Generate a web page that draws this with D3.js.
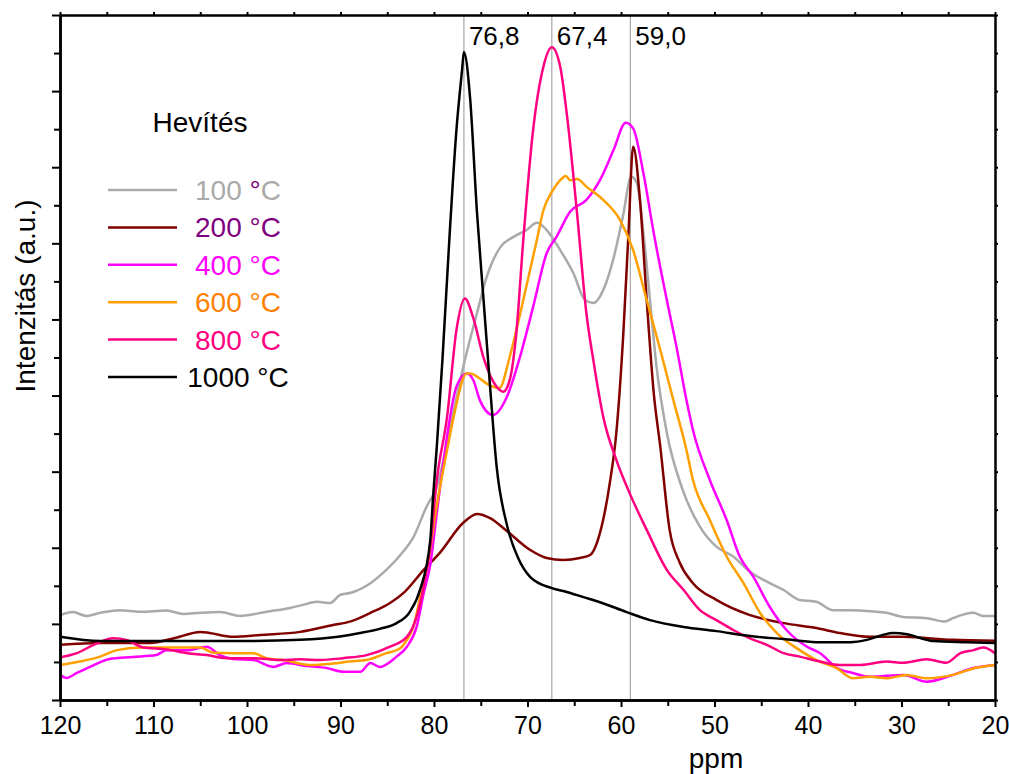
<!DOCTYPE html>
<html>
<head>
<meta charset="utf-8">
<script src="https://cdn.jsdelivr.net/npm/d3@7"></script>
<style>
  body { margin: 0; background: #fff; }
  svg text { font-family: Arial, "Liberation Sans", sans-serif; }
</style>
</head>
<body>
<script>
'use strict';

// [ppm, intensity (a.u.)] for each heating temperature
const s100 = [[120,2.23],[118.6,2.31],[117.2,2.21],[115.7,2.29],[113.6,2.36],[111.4,2.32],[108.6,2.35],[106.8,2.26],
  [105,2.29],[102.9,2.31],[100.75,2.21],[97.9,2.32],[95.4,2.42],[94.0,2.50],[92.5,2.58],[91.1,2.55],[90.05,2.76],
  [89.0,2.81],[86.8,3.07],[85.45,3.34],[83.6,3.81],[82.2,4.28],[80.8,5.08],[79.7,5.60],[78.2,7.25],[76.7,8.93],
  [75.4,10.17],[74.4,11.09],[72.9,11.90],[71.5,12.17],[70.1,12.35],[69.0,12.54],[67.95,12.35],[66.5,11.82],
  [65.1,11.22],[63.85,10.51],[62.96,10.43],[61.9,10.77],[60.85,11.56],[59.8,12.70],[58.9,13.75],[58.3,13.58],
  [57.6,12.27],[56.9,10.51],[56.2,8.76],[55.1,7.02],[53.4,5.52],[51.55,4.55],[49.8,4.03],[48.0,3.77],[46.2,3.37],
  [44.4,3.11],[42.6,2.89],[40.9,2.63],[39.1,2.58],[37.3,2.36],[35.5,2.36],[34.4,2.35],[31.6,2.29],[29.8,2.18],
  [27.3,2.15],[25.35,2.06],[24.5,2.15],[22.3,2.29],[21.3,2.21],[20,2.21]];

const s200 = [[120,1.45],[115.7,1.50],[110.4,1.50],[107.7,1.63],[105,1.79],[104,1.76],[101.5,1.66],[98.6,1.71],
  [94.3,1.79],[90.8,1.97],[89.0,2.06],[86.8,2.29],[84.7,2.55],[83.1,2.85],[81.1,3.42],[79.4,3.86],[76.9,4.65],
  [75.4,4.89],[74.0,4.78],[72.2,4.44],[69.7,3.94],[67.95,3.73],[66.2,3.68],[64.4,3.73],[63.3,3.81],[62.25,4.39],
  [61.2,5.70],[60.5,7.02],[59.75,9.64],[59.2,12.27],[58.7,14.54],[57.97,13.14],[57.25,10.51],[56.5,8.07],
  [55.8,6.66],[54.8,4.47],[53.7,3.60],[52.3,3.07],[49.8,2.63],[46.2,2.23],[42.6,2.02],[39.1,1.89],[36.6,1.76],
  [33.4,1.66],[29.8,1.66],[24.5,1.58],[20,1.56]];

const s400 = [[120,0.66],[119.3,0.58],[118.2,0.71],[116.8,0.87],[114.7,1.08],[112.2,1.13],[109.7,1.18],[108.6,1.31],
  [106.4,1.31],[104.3,1.40],[102.9,1.18],[101.5,1.08],[99.3,1.05],[97.2,0.87],[95.75,0.97],[93.6,0.89],[91.5,0.84],
  [89.7,0.74],[87.9,0.74],[86.8,0.97],[85.8,0.87],[84.0,1.14],[82.9,1.40],[81.85,1.93],[81.1,2.81],[80.4,3.55],
  [79.7,4.91],[78.9,6.42],[77.6,8.23],[76.5,8.58],[75.8,8.41],[75.1,7.88],[73.7,7.49],[72.2,7.97],[70.8,9.02],
  [69.4,10.33],[67.95,11.74],[66.9,12.17],[65.45,12.83],[63.7,13.14],[62.25,13.66],[60.8,14.45],[59.5,15.17],
  [58.7,15.02],[57.6,13.84],[56.5,12.27],[55.1,10.51],[54.0,9.20],[53.0,7.88],[52.3,7.09],[50.5,5.78],[48.7,4.73],
  [47.3,3.77],[45.85,3.24],[44.1,2.45],[42.3,1.84],[40.1,1.40],[38.7,1.23],[36.9,0.84],[35.2,0.71],[33.4,0.61],
  [29.8,0.66],[27.3,0.48],[24.5,0.66],[22.3,0.84],[20,0.92]];

const s600 = [[120,0.92],[117.9,1.01],[115.7,1.14],[113.9,1.31],[111.4,1.38],[107.9,1.38],[105,1.38],[103.6,1.24],
  [101.5,1.23],[99.3,1.23],[97.9,1.10],[96.1,1.05],[93.3,0.92],[90.8,0.96],[89.0,1.01],[87.2,1.05],[85.1,1.23],
  [83.6,1.36],[82.9,1.58],[82.2,1.93],[81.5,2.68],[80.6,3.68],[79.7,5.12],[78.6,6.57],[77.9,7.44],[76.5,8.58],
  [76.15,8.58],[75.1,8.45],[74.4,8.32],[73.0,8.20],[71.9,9.02],[70.45,10.51],[69.0,12.09],[68.3,12.87],
  [67.4,13.35],[66.5,13.66],[65.9,13.77],[65.45,13.66],[64.7,13.69],[63.7,13.49],[61.9,13.14],[60.1,12.61],
  [58.7,11.82],[57.25,10.51],[55.8,9.20],[54.4,7.88],[53.0,6.57],[52.3,5.78],[50.5,4.73],[48.7,3.77],[46.9,3.07],
  [45.1,2.28],[43.3,1.75],[40.9,1.31],[39.1,1.05],[36.9,0.83],[35.2,0.57],[33.4,0.61],[31.6,0.57],[29.45,0.66],
  [27.3,0.57],[24.5,0.66],[22.3,0.83],[20,0.92]];

const s800 = [[120,1.12],[118.2,1.23],[116.4,1.45],[114.3,1.62],[112.9,1.58],[111.1,1.38],[108.6,1.33],[106.4,1.23],
  [104.3,1.18],[102.2,1.10],[99.3,1.10],[96.5,1.05],[94.3,1.07],[92.2,1.05],[89.7,1.10],[87.2,1.18],[84.7,1.40],
  [82.9,1.66],[81.85,2.19],[81.1,2.98],[80.4,4.03],[79.7,5.78],[78.6,7.44],[77.6,9.72],[76.7,10.55],[75.8,10.04],
  [74.7,8.99],[73.3,8.23],[72.6,8.10],[71.9,8.41],[71.2,9.63],[70.45,12.09],[69.4,14.98],[68.3,16.64],[67.4,17.15],
  [66.5,16.64],[65.8,15.41],[64.7,12.79],[63.7,10.16],[62.96,8.93],[61.9,7.44],[60.5,6.31],[59.0,5.39],[57.25,4.47],
  [55.1,3.42],[53.3,2.89],[51.55,2.36],[49.8,2.10],[48.0,1.84],[46.2,1.62],[44.4,1.45],[42.6,1.23],[40.9,1.14],
  [38.7,1.01],[36.6,0.92],[34.4,0.92],[31.6,1.01],[29.8,0.98],[27.3,1.07],[25.2,0.98],[23.7,1.23],[22.3,1.31],
  [21.25,1.38],[20,1.23]];

const s1000 = [[120,1.66],[115.7,1.55],[110.4,1.55],[105,1.55],[99.7,1.55],[94.3,1.58],[90.05,1.67],[87.9,1.76],
  [85.8,1.87],[84.0,2.02],[82.6,2.31],[81.5,2.89],[80.4,4.20],[80.1,5.33],[79.7,6.66],[79.1,8.93],[78.3,12.35],
  [77.6,14.98],[77.0,16.55],[76.8,17.03],[76.15,15.85],[75.4,12.80],[74.7,10.51],[74.0,8.23],[73.3,6.13],
  [72.2,4.60],[71.0,3.73],[69.7,3.23],[67.4,2.94],[65.8,2.84],[64.1,2.71],[62.25,2.57],[59.4,2.31],[56.9,2.10],
  [53.3,1.92],[49.8,1.81],[46.2,1.68],[42.6,1.60],[39.1,1.52],[35.5,1.52],[33.7,1.58],[32.0,1.71],[30.9,1.76],
  [29.4,1.73],[28.0,1.63],[26.6,1.55],[23.0,1.52],[20,1.50]];

const seriesNames = ['100 °C', '200 °C', '400 °C', '600 °C', '800 °C', '1000 °C'];
const seriesData = [s100, s200, s400, s600, s800, s1000];
const lineColors = ['#aaaaaa', '#800000', '#ff00ff', '#ffa000', '#ff0080', '#000000'];
const labelColors = ['#aaaaaa', '#800080', '#ff00ff', '#ff8000', '#ff0080', '#000000'];

const peakLines = [76.8, 67.4, 59.0];
const peakLabels = ['76,8', '67,4', '59,0'];

const xMajor = [120, 110, 100, 90, 80, 70, 60, 50, 40, 30, 20];
const xMinor = [115, 105, 95, 85, 75, 65, 55, 45, 35, 25];

(function() {
  const width = 1009, height = 774;
  const left = 60, right = 995, top = 15, bottom = 700;

  const svg = d3.select('body').append('svg')
    .attr('width', width)
    .attr('height', height);

  const x = d3.scaleLinear().domain([120, 20]).range([left, right]);
  const y = d3.scaleLinear().domain([0, 18]).range([bottom, top]);

  // peak position markers
  svg.selectAll('.peak')
    .data(peakLines)
    .enter()
    .append('line')
      .attr('x1', d => x(d))
      .attr('x2', d => x(d))
      .attr('y1', y(18))
      .attr('y2', y(0))
      .attr('stroke', '#a6a6a6')
      .attr('stroke-width', 1.2);

  svg.selectAll('.peakLabel')
    .data(peakLines)
    .enter()
    .append('text')
      .attr('x', d => x(d) + 5)
      .attr('y', 45)
      .style('font-size', '26px')
      .text((d, i) => peakLabels[i]);

  // spectra
  const line = d3.line()
    .x(d => x(d[0]))
    .y(d => y(d[1]))
    .curve(d3.curveMonotoneX);

  seriesData.forEach((data, i) => {
    svg.append('path')
      .datum(data)
      .attr('d', line)
      .attr('fill', 'none')
      .attr('stroke', lineColors[i])
      .attr('stroke-width', 2.5)
      .attr('stroke-linejoin', 'round');
  });

  // axes
  const noLabel = () => '';

  svg.append('g')
    .attr('transform', `translate(0, ${bottom})`)
    .call(d3.axisBottom(x).tickValues(xMajor).tickSize(7).tickSizeOuter(0).tickFormat(d3.format('d')))
    .call(g => g.selectAll('text').style('font-size', '25px').attr('dy', '0.95em').attr('fill', '#000'));

  svg.append('g')
    .attr('transform', `translate(0, ${bottom})`)
    .call(d3.axisBottom(x).tickValues(xMinor).tickSize(6).tickSizeOuter(0).tickFormat(noLabel));

  svg.append('g')
    .attr('transform', `translate(0, ${top})`)
    .call(d3.axisTop(x).tickValues(xMajor.concat(xMinor)).tickSize(3).tickSizeOuter(0).tickFormat(noLabel));

  const yMajor = d3.range(0, 19, 2);
  const yMinor = d3.range(1, 18, 2);

  svg.append('g')
    .attr('transform', `translate(${left}, 0)`)
    .call(d3.axisLeft(y).tickValues(yMajor).tickSize(8).tickSizeOuter(0).tickFormat(noLabel));

  svg.append('g')
    .attr('transform', `translate(${left}, 0)`)
    .call(d3.axisLeft(y).tickValues(yMinor).tickSize(6).tickSizeOuter(0).tickFormat(noLabel));

  svg.append('g')
    .attr('transform', `translate(${right}, 0)`)
    .call(d3.axisRight(y).tickValues(d3.range(0, 19)).tickSize(3).tickSizeOuter(0).tickFormat(noLabel));

  svg.selectAll('.domain').attr('stroke-width', 2.5);
  svg.selectAll('.tick line').attr('stroke-width', 2);

  // axis titles
  svg.append('text')
    .attr('x', 716)
    .attr('y', 768)
    .attr('text-anchor', 'middle')
    .style('font-size', '28px')
    .text('ppm');

  svg.append('text')
    .attr('transform', 'translate(35, 296) rotate(-90)')
    .attr('text-anchor', 'middle')
    .style('font-size', '28px')
    .text('Intenzitás (a.u.)');

  // legend
  svg.append('text')
    .attr('x', 200)
    .attr('y', 132)
    .attr('text-anchor', 'middle')
    .style('font-size', '28px')
    .text('Hevítés');

  const legend = svg.selectAll('.legendItem')
    .data(seriesNames)
    .enter()
    .append('g')
      .attr('transform', (d, i) => `translate(0, ${200 + i * 37.4})`);

  legend.append('line')
    .attr('x1', 108)
    .attr('x2', 177)
    .attr('y1', -10)
    .attr('y2', -10)
    .attr('stroke', (d, i) => lineColors[i])
    .attr('stroke-width', 2.5);

  legend.append('text')
    .attr('x', 238)
    .attr('y', 0)
    .attr('text-anchor', 'middle')
    .style('font-size', '28px')
    .attr('fill', (d, i) => labelColors[i])
    .each(function(d, i) {
      const t = d3.select(this);
      const parts = d.split('°');
      t.append('tspan').text(parts[0]);
      t.append('tspan').attr('fill', i === 0 ? '#800080' : null).text('°');
      t.append('tspan').text(parts[1]);
    });
})();
</script>
</body>
</html>
